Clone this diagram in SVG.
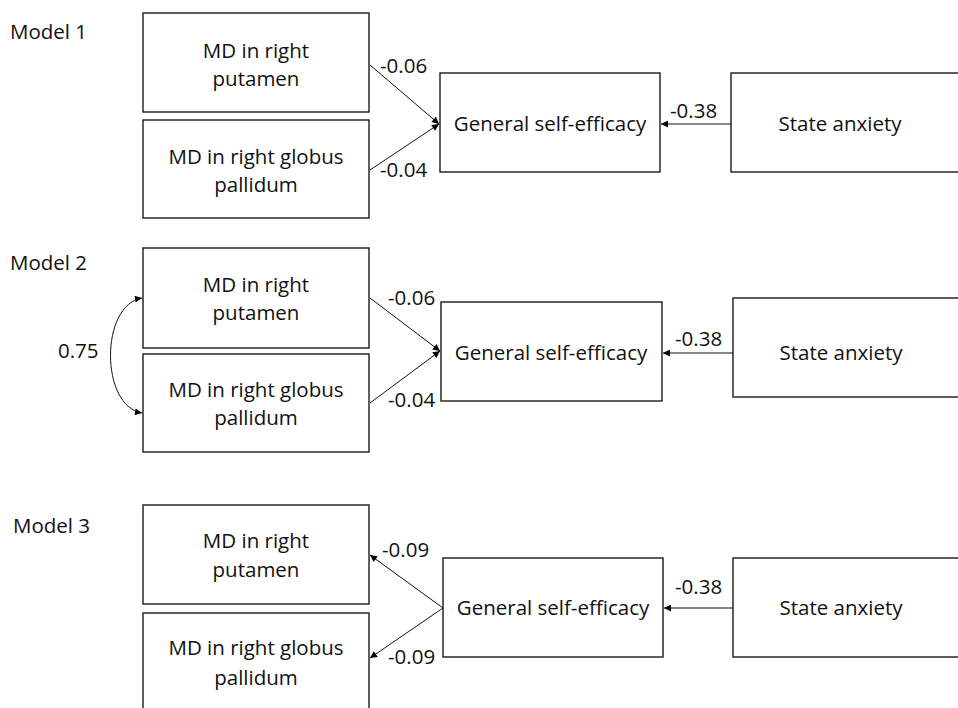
<svg xmlns="http://www.w3.org/2000/svg" width="958" height="708" viewBox="0 0 958 708">
<defs>
<marker id="ah" viewBox="0 0 10 10" refX="10" refY="5" markerWidth="9" markerHeight="7" markerUnits="userSpaceOnUse" orient="auto-start-reverse">
<path d="M0,0 L10,5 L0,10 z" fill="#000"/>
</marker>
<style>
.box{fill:#fff;stroke:#1a1a1a;stroke-width:1.4}
.t{font-family:"Open Sans","Liberation Sans",sans-serif;font-size:20.5px;fill:#111}
.c{text-anchor:middle}
.e{fill:none;stroke:#111;stroke-width:1}
</style>
</defs>
<rect width="958" height="708" fill="#fff"/>

<text class="t" x="10" y="39">Model 1</text>
<text class="t" x="10" y="270">Model 2</text>
<text class="t" x="13" y="533">Model 3</text>

<g id="m1-putamen"><rect class="box" x="143" y="13" width="226" height="99"/>
<text class="t c" x="256" y="58">MD in right</text><text class="t c" x="256" y="86">putamen</text></g>
<g id="m1-globus"><rect class="box" x="143" y="120" width="226" height="98"/>
<text class="t c" x="256" y="164">MD in right globus</text><text class="t c" x="256" y="192">pallidum</text></g>
<g id="m1-gse"><rect class="box" x="440" y="73" width="220" height="99"/>
<text class="t c" x="550" y="131">General self-efficacy</text></g>
<g id="m1-anx"><rect class="box" x="731" y="73" width="240" height="99"/>
<text class="t c" x="840" y="131">State anxiety</text></g>

<g id="m2-putamen"><rect class="box" x="143" y="248" width="226" height="100"/>
<text class="t c" x="256" y="292">MD in right</text><text class="t c" x="256" y="320">putamen</text></g>
<g id="m2-globus"><rect class="box" x="143" y="354" width="226" height="98"/>
<text class="t c" x="256" y="397">MD in right globus</text><text class="t c" x="256" y="425">pallidum</text></g>
<g id="m2-gse"><rect class="box" x="441" y="302" width="221" height="99"/>
<text class="t c" x="551" y="360">General self-efficacy</text></g>
<g id="m2-anx"><rect class="box" x="733" y="298" width="240" height="99"/>
<text class="t c" x="841" y="360">State anxiety</text></g>

<g id="m3-putamen"><rect class="box" x="143" y="505" width="226" height="99"/>
<text class="t c" x="256" y="548">MD in right</text><text class="t c" x="256" y="577">putamen</text></g>
<g id="m3-globus"><rect class="box" x="143" y="613" width="226" height="100"/>
<text class="t c" x="256" y="655">MD in right globus</text><text class="t c" x="256" y="685">pallidum</text></g>
<g id="m3-gse"><rect class="box" x="443" y="558" width="220" height="99"/>
<text class="t c" x="553" y="615">General self-efficacy</text></g>
<g id="m3-anx"><rect class="box" x="733" y="558" width="240" height="99"/>
<text class="t c" x="841" y="615">State anxiety</text></g>

<g id="connectors">
<line class="e" x1="370" y1="65" x2="439" y2="124" marker-end="url(#ah)"/>
<line class="e" x1="370" y1="170" x2="439" y2="124" marker-end="url(#ah)"/>
<line class="e" x1="731" y1="124" x2="661" y2="124" marker-end="url(#ah)"/>
<text class="t" x="380" y="73">-0.06</text>
<text class="t" x="380" y="177">-0.04</text>
<text class="t" x="670" y="118">-0.38</text>

<line class="e" x1="370" y1="298" x2="440" y2="351" marker-end="url(#ah)"/>
<line class="e" x1="370" y1="403" x2="440" y2="351" marker-end="url(#ah)"/>
<line class="e" x1="733" y1="353" x2="663" y2="353" marker-end="url(#ah)"/>
<path class="e" d="M142,298 C100,305 100,406 142,413" marker-start="url(#ah)" marker-end="url(#ah)"/>
<text class="t" x="388" y="305">-0.06</text>
<text class="t" x="388" y="407">-0.04</text>
<text class="t" x="675" y="346">-0.38</text>
<text class="t" x="58" y="358">0.75</text>

<line class="e" x1="443" y1="608" x2="370" y2="555" marker-end="url(#ah)"/>
<line class="e" x1="443" y1="608" x2="370" y2="658" marker-end="url(#ah)"/>
<line class="e" x1="733" y1="608" x2="664" y2="608" marker-end="url(#ah)"/>
<text class="t" x="382" y="557">-0.09</text>
<text class="t" x="388" y="664">-0.09</text>
<text class="t" x="675" y="594">-0.38</text>
</g>
</svg>
